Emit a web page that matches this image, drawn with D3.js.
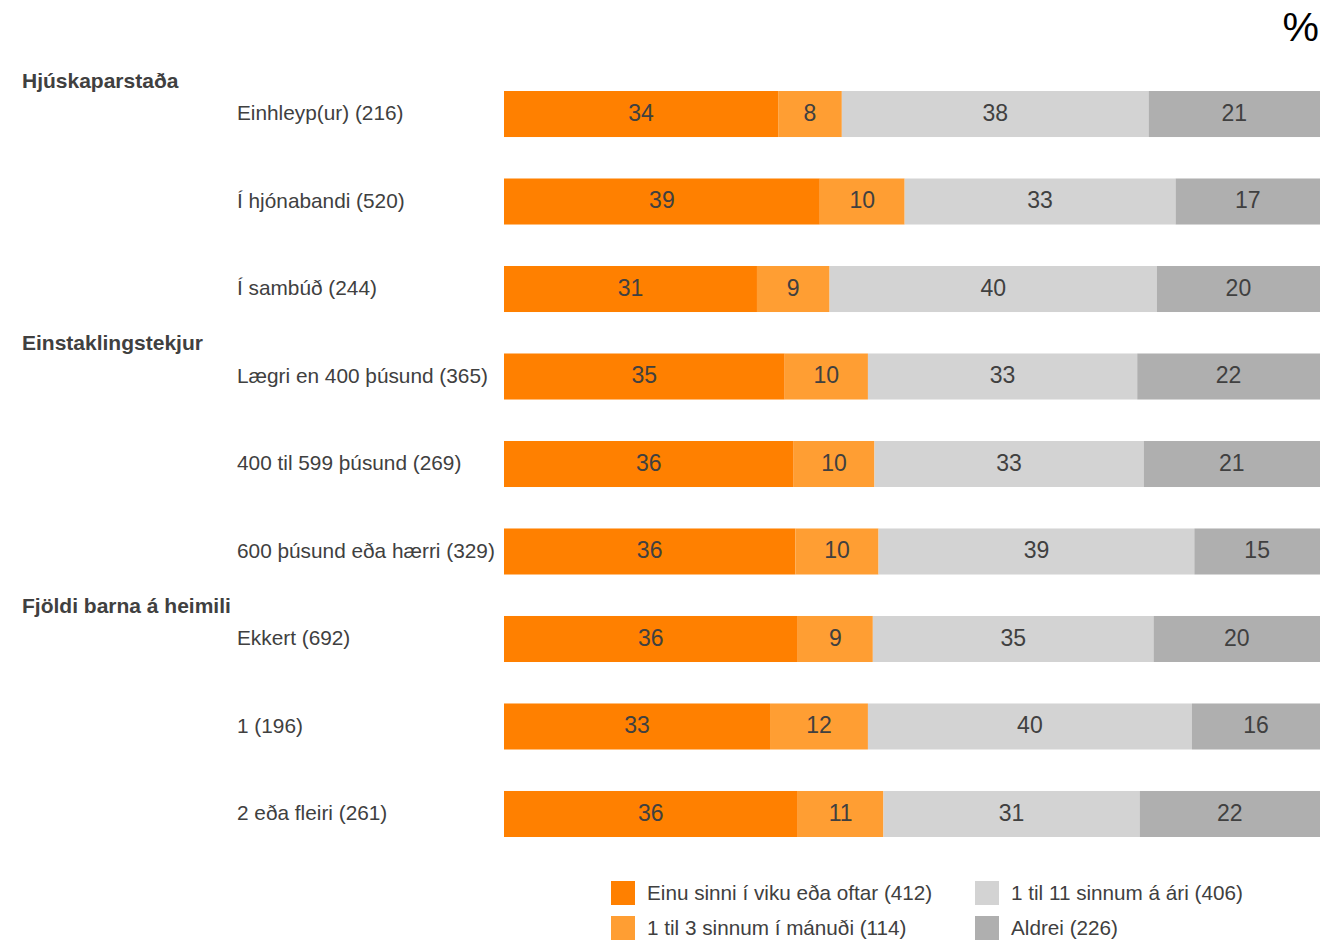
<!DOCTYPE html>
<html>
<head>
<meta charset="utf-8">
<script src="https://cdn.jsdelivr.net/npm/d3@7/dist/d3.min.js"></script>
<style>
  html, body { margin: 0; padding: 0; background: #fff; }
  svg { display: block; font-family: "Liberation Sans", Arial, sans-serif; }
</style>
</head>
<body>
<svg id="chart" width="1322" height="940"></svg>
<script>
// ---- data ----
const categories = [
  "Einhleyp(ur) (216)", "Í hjónabandi (520)", "Í sambúð (244)",
  "Lægri en 400 þúsund (365)", "400 til 599 þúsund (269)", "600 þúsund eða hærri (329)",
  "Ekkert (692)", "1 (196)", "2 eða fleiri (261)"
];
const groups = ["Hjúskaparstaða", "Einstaklingstekjur", "Fjöldi barna á heimili"];
const groupStarts = [0, 3, 6];
const seriesNames = [
  "Einu sinni í viku eða oftar (412)",
  "1 til 3 sinnum í mánuði (114)",
  "1 til 11 sinnum á ári (406)",
  "Aldrei (226)"
];
// segment shares (%) as measured from the bars
const weekly  = [33.6, 38.7, 31.0, 34.4, 35.5, 35.7, 36.0, 32.6, 36.0];
const monthly = [ 7.8, 10.4,  8.9, 10.2,  9.9, 10.2,  9.2, 12.0, 10.5];
const yearly  = [37.6, 33.2, 40.1, 33.0, 33.0, 38.7, 34.4, 39.7, 31.4];
const never   = [21.0, 17.7, 20.0, 22.4, 21.6, 15.4, 20.4, 15.7, 22.1];
// printed labels
const weeklyLbl  = [34, 39, 31, 35, 36, 36, 36, 33, 36];
const monthlyLbl = [ 8, 10,  9, 10, 10, 10,  9, 12, 11];
const yearlyLbl  = [38, 33, 40, 33, 33, 39, 35, 40, 31];
const neverLbl   = [21, 17, 20, 22, 21, 15, 20, 16, 22];
const colors = ["#FF8000", "#FF9E33", "#D3D3D3", "#AFAFAF"];

// ---- build ----
const keys = ["weekly", "monthly", "yearly", "never"];
const vals = [weekly, monthly, yearly, never];
const lbls = [weeklyLbl, monthlyLbl, yearlyLbl, neverLbl];
const rows = categories.map((c, i) => {
  const r = { cat: c, i };
  keys.forEach((k, j) => { r[k] = vals[j][i]; r[k + "_l"] = lbls[j][i]; });
  return r;
});

const svg = d3.select("#chart");
const x = d3.scaleLinear().domain([0, 100]).range([504, 1320]);
const y = d3.scaleBand().domain(categories).range([91, 837])
  .paddingInner(0.474).paddingOuter(0);

const stack = d3.stack().keys(keys);
const layers = stack(rows);
const textCol = "#404040";

const g = svg.append("g");
layers.forEach((layer, j) => {
  const lg = g.append("g");
  lg.selectAll("rect").data(layer).join("rect")
    .attr("x", d => x(d[0]))
    .attr("y", d => y(d.data.cat))
    .attr("width", d => x(d[1]) - x(d[0]))
    .attr("height", y.bandwidth())
    .attr("fill", colors[j]);
  lg.selectAll("text").data(layer).join("text")
    .attr("x", d => (x(d[0]) + x(d[1])) / 2)
    .attr("y", d => y(d.data.cat) + y.bandwidth() / 2)
    .attr("dy", "0.3em")
    .attr("text-anchor", "middle")
    .attr("font-size", "23px")
    .attr("fill", textCol)
    .text(d => d.data[keys[j] + "_l"]);
});

// category labels
svg.append("g").selectAll("text").data(categories).join("text")
  .attr("x", 237)
  .attr("y", d => y(d) + y.bandwidth() / 2)
  .attr("dy", "0.3em")
  .attr("font-size", "20.8px")
  .attr("fill", textCol)
  .text(d => d);

// group headers
svg.append("g").selectAll("text").data(groups).join("text")
  .attr("x", 22)
  .attr("y", (d, i) => y(categories[groupStarts[i]]) + y.bandwidth() / 2 - 33)
  .attr("dy", "0.32em")
  .attr("font-size", "21px")
  .attr("font-weight", "bold")
  .attr("fill", textCol)
  .text(d => d);

// percent sign
svg.append("text")
  .attr("x", 1319).attr("y", 41)
  .attr("text-anchor", "end")
  .attr("font-size", "41px")
  .attr("fill", "#000")
  .text("%");

// legend
const legPos = [[611, 881], [611, 916], [975, 881], [975, 916]];
const leg = svg.append("g").selectAll("g").data(seriesNames).join("g")
  .attr("transform", (d, i) => `translate(${legPos[i][0]},${legPos[i][1]})`);
leg.append("rect").attr("width", 24).attr("height", 24)
  .attr("fill", (d, i) => colors[i]);
leg.append("text").attr("x", 36).attr("y", 12).attr("dy", "0.32em")
  .attr("font-size", "20.7px").attr("fill", textCol)
  .text(d => d);
</script>
</body>
</html>
